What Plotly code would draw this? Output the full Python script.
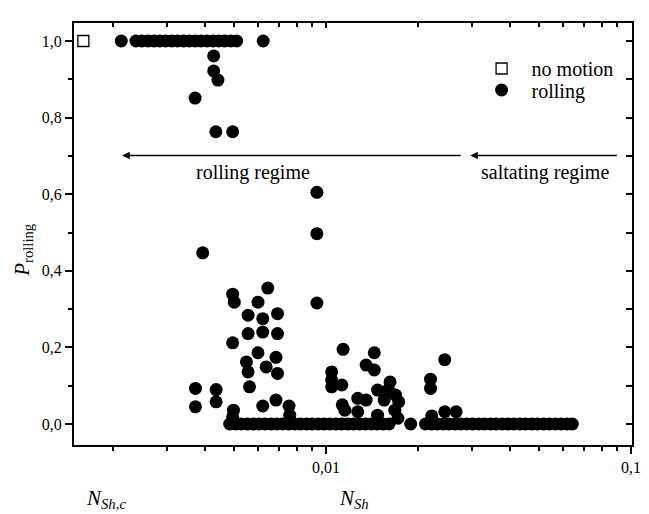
import math
import plotly.graph_objects as go

# ---------------- data ----------------
no_motion_x = [0.0016]
no_motion_y = [1.0]

# rolling points with P = 1
top_x = [0.00213, 0.00238, 0.00249, 0.00261, 0.00273, 0.00285, 0.00298, 0.00312,
         0.00326, 0.00341, 0.00356, 0.00372, 0.00389, 0.00407, 0.00426, 0.00445,
         0.00465, 0.00487, 0.00509, 0.00622]
top_y = [1.0, 1.0, 1.0, 1.0, 1.0, 1.0, 1.0, 1.0, 1.0, 1.0,
         1.0, 1.0, 1.0, 1.0, 1.0, 1.0, 1.0, 1.0, 1.0, 1.0]

# rolling points with P = 0 (left group)
zero_left_x = [0.00483, 0.00505, 0.00528, 0.00552, 0.00577, 0.00603, 0.00631, 0.00660,
               0.00690, 0.00721, 0.00754, 0.00789, 0.00824, 0.00862, 0.00901, 0.00942,
               0.00985, 0.01030, 0.01077, 0.01126, 0.01178, 0.01231, 0.01287, 0.01346,
               0.01407, 0.01471, 0.01539, 0.01609]
zero_left_y = [0.0, 0.0, 0.0, 0.0, 0.0, 0.0, 0.0, 0.0, 0.0, 0.0, 0.0, 0.0, 0.0, 0.0,
               0.0, 0.0, 0.0, 0.0, 0.0, 0.0, 0.0, 0.0, 0.0, 0.0, 0.0, 0.0, 0.0, 0.0]

# rolling points with P = 0 (right group)
zero_right_x = [0.01894, 0.02118, 0.02214, 0.02315, 0.02421, 0.02531, 0.02647, 0.02767,
                0.02893, 0.03025, 0.03162, 0.03306, 0.03457, 0.03614, 0.03779, 0.03951,
                0.04131, 0.04319, 0.04516, 0.04722, 0.04937, 0.05162, 0.05398, 0.05643,
                0.05902, 0.06170, 0.06420]
zero_right_y = [0.0, 0.0, 0.0, 0.0, 0.0, 0.0, 0.0, 0.0, 0.0, 0.0, 0.0, 0.0, 0.0, 0.0,
                0.0, 0.0, 0.0, 0.0, 0.0, 0.0, 0.0, 0.0, 0.0, 0.0, 0.0, 0.0, 0.0]

# remaining rolling points
mid_x = [0.00428, 0.00428, 0.00442, 0.00372, 0.00435, 0.00494,
         0.00933, 0.00933, 0.00394, 0.00933, 0.00644, 0.00494, 0.00500, 0.00598,
         0.00555, 0.00620, 0.00693, 0.00555, 0.00620, 0.00693, 0.00494, 0.00598,
         0.00548, 0.00685, 0.00636, 0.00555, 0.00693, 0.00561, 0.00373, 0.00436,
         0.00373, 0.00436, 0.00497, 0.00620, 0.00685, 0.00756, 0.00760, 0.00494,
         0.01043, 0.01043, 0.01137, 0.01439, 0.01353, 0.01439, 0.01126, 0.01043,
         0.01621, 0.02449, 0.02200, 0.02200, 0.01475, 0.01690, 0.01730, 0.01270,
         0.01353, 0.01152, 0.01550, 0.01270, 0.01475, 0.01680, 0.01720, 0.01130, 0.01600,
         0.02220, 0.02450, 0.02670]
mid_y = [0.961, 0.922, 0.898, 0.851, 0.763, 0.763,
         0.605, 0.497, 0.447, 0.316, 0.355, 0.339, 0.318, 0.318,
         0.284, 0.275, 0.288, 0.236, 0.240, 0.236, 0.212, 0.186,
         0.162, 0.174, 0.149, 0.136, 0.132, 0.097, 0.093, 0.090,
         0.045, 0.058, 0.036, 0.047, 0.0625, 0.047, 0.023, 0.019,
         0.136, 0.115, 0.195, 0.186, 0.154, 0.141, 0.102, 0.097,
         0.110, 0.168, 0.117, 0.093, 0.0885, 0.0755, 0.058, 0.067,
         0.0625, 0.036, 0.0625, 0.032, 0.023, 0.036, 0.015, 0.050, 0.090,
         0.021, 0.032, 0.032]

rolling_x = top_x + zero_left_x + zero_right_x + mid_x
rolling_y = top_y + zero_left_y + zero_right_y + mid_y

# characteristic Shields numbers (vertical dashed lines)
nsh_critical = 0.00194
nsh_saltation = 0.0270

x_major = [0.01, 0.1]
x_major_text = ["0,01", "0,1"]
x_minor = [0.002, 0.003, 0.004, 0.005, 0.006, 0.007, 0.008, 0.009,
           0.02, 0.03, 0.04, 0.05, 0.06, 0.07, 0.08, 0.09]
y_major = [0.0, 0.2, 0.4, 0.6, 0.8, 1.0]
y_major_text = ["0,0", "0,2", "0,4", "0,6", "0,8", "1,0"]

# ---------------- figure ----------------
FONT = "'Liberation Serif', 'Times New Roman', 'DejaVu Serif', serif"
W, H = 649, 514
ML, MR, MT, MB = 74, 8, 23, 69
PW = W - ML - MR
PH = H - MT - MB
x_range = [-2.8265, -0.997]
y_range = [-0.0548, 1.047]


def px2paper(px, py):
    """window pixel -> paper coordinates"""
    return (px - ML) / PW, (H - MB - py) / PH


fig = go.Figure()

fig.add_trace(go.Scatter(
    x=no_motion_x, y=no_motion_y, mode="markers", name="no motion",
    marker=dict(symbol="square-open", size=11, color="black", line=dict(width=1.3)),
    cliponaxis=False, legend="legend",
))
fig.add_trace(go.Scatter(
    x=rolling_x, y=rolling_y, mode="markers", name="rolling",
    marker=dict(symbol="circle", size=13, color="black", line=dict(width=0)),
    cliponaxis=False, legend="legend2",
))
# invisible trace so the inward ticks of the top/right axes are rendered
fig.add_trace(go.Scatter(
    x=no_motion_x, y=no_motion_y, xaxis="x2", yaxis="y2", mode="markers",
    marker=dict(opacity=0), showlegend=False, hoverinfo="skip",
))

tickfont = dict(family=FONT, size=16, color="black")
legfont = dict(family=FONT, size=20, color="black")
lx, ly1 = px2paper(478, 49)
_, ly2 = px2paper(478, 70.5)

fig.update_layout(
    width=W, height=H,
    margin=dict(l=ML, r=MR, t=MT, b=MB, pad=0),
    plot_bgcolor="white", paper_bgcolor="white",
    font=dict(family=FONT, size=16, color="black"),
    xaxis=dict(
        type="log", range=x_range, showgrid=False, zeroline=False,
        showline=True, mirror=True, linecolor="black", linewidth=2,
        tickmode="array", tickvals=x_major, ticktext=x_major_text,
        ticks="outside", ticklen=7, tickwidth=1.5, tickcolor="black",
        tickfont=tickfont,
        minor=dict(tickmode="array", tickvals=x_minor, ticks="outside",
                   ticklen=4, tickwidth=1.5, tickcolor="black", showgrid=False),
    ),
    yaxis=dict(
        range=y_range, showgrid=False, zeroline=False,
        showline=True, mirror=True, linecolor="black", linewidth=2,
        tickmode="array", tickvals=y_major, ticktext=y_major_text,
        ticks="outside", ticklen=7, tickwidth=1.5, tickcolor="black",
        tickfont=tickfont,
        minor=dict(dtick=0.1, tick0=0, ticks="outside", ticklen=4,
                   tickwidth=1.5, tickcolor="black", showgrid=False),
    ),
    xaxis2=dict(
        type="log", range=x_range, overlaying="x", side="top", anchor="y2",
        showgrid=False, zeroline=False, showline=False,
        tickmode="array", tickvals=x_major, showticklabels=False,
        ticks="inside", ticklen=5, tickwidth=1.5, tickcolor="black",
        minor=dict(tickmode="array", tickvals=x_minor, ticks="inside",
                   ticklen=4, tickwidth=1.5, tickcolor="black", showgrid=False),
    ),
    yaxis2=dict(
        range=y_range, overlaying="y", side="right", anchor="x2",
        showgrid=False, zeroline=False, showline=False,
        tickmode="array", tickvals=y_major, showticklabels=False,
        ticks="inside", ticklen=6, tickwidth=1.5, tickcolor="black",
        minor=dict(dtick=0.1, tick0=0, ticks="inside", ticklen=6,
                   tickwidth=1.5, tickcolor="black", showgrid=False),
    ),
    showlegend=True,
    legend=dict(x=lx, y=ly1, xanchor="left", yanchor="top", font=legfont,
                bgcolor="rgba(0,0,0,0)", borderwidth=0, itemwidth=50),
    legend2=dict(x=lx, y=ly2, xanchor="left", yanchor="top", font=legfont,
                 bgcolor="rgba(0,0,0,0)", borderwidth=0, itemwidth=50),
)

# vertical dashed lines
_, ytop = px2paper(0, 5)
for xv, ybot_px in [(nsh_critical, 485), (nsh_saltation, 482)]:
    _, ybot = px2paper(0, ybot_px)
    fig.add_shape(type="line", xref="x", yref="paper",
                  x0=math.log10(xv), x1=math.log10(xv), y0=ybot, y1=ytop,
                  line=dict(color="black", width=1.6, dash="5px,3px"), layer="above")

# regime arrows
hx, hy = px2paper(123, 155.5)
fig.add_annotation(x=hx, y=hy, xref="paper", yref="paper", ax=340, ay=0,
                   axref="pixel", ayref="pixel", text="", showarrow=True,
                   arrowhead=2, arrowsize=1, arrowwidth=1.5, arrowcolor="black")
hx, hy = px2paper(476.7, 155.5)
fig.add_annotation(x=hx, y=hy, xref="paper", yref="paper", ax=148, ay=0,
                   axref="pixel", ayref="pixel", text="", showarrow=True,
                   arrowhead=2, arrowsize=1, arrowwidth=1.5, arrowcolor="black")

# regime labels
for txt, (px, py) in [("rolling regime", (255.5, 172.5)), ("saltating regime", (553, 172.5))]:
    ax_, ay_ = px2paper(px, py)
    fig.add_annotation(x=ax_, y=ay_, xref="paper", yref="paper", text=txt,
                       showarrow=False, font=dict(family=FONT, size=20, color="black"),
                       xanchor="center", yanchor="middle")

# axis titles
ax_, ay_ = px2paper(22, 250)
fig.add_annotation(x=ax_, y=ay_, xref="paper", yref="paper",
                   text="<i>P</i><sub>rolling</sub>", textangle=-90, showarrow=False,
                   font=dict(family=FONT, size=21, color="black"),
                   xanchor="center", yanchor="middle")
ax_, ay_ = px2paper(359, 499)
fig.add_annotation(x=ax_, y=ay_, xref="paper", yref="paper",
                   text="<i>N</i><sub><i>Sh</i></sub>", showarrow=False,
                   font=dict(family=FONT, size=21, color="black"),
                   xanchor="center", yanchor="middle")
ax_, ay_ = px2paper(107, 499)
fig.add_annotation(x=ax_, y=ay_, xref="paper", yref="paper",
                   text="<i>N</i><sub><i>Sh,c</i></sub>", showarrow=False,
                   font=dict(family=FONT, size=21, color="black"),
                   xanchor="center", yanchor="middle")

fig.write_html(
    "out.html",
    config={"displayModeBar": False},
    post_script="document.body.style.margin='0px';document.body.style.overflow='hidden';",
)
